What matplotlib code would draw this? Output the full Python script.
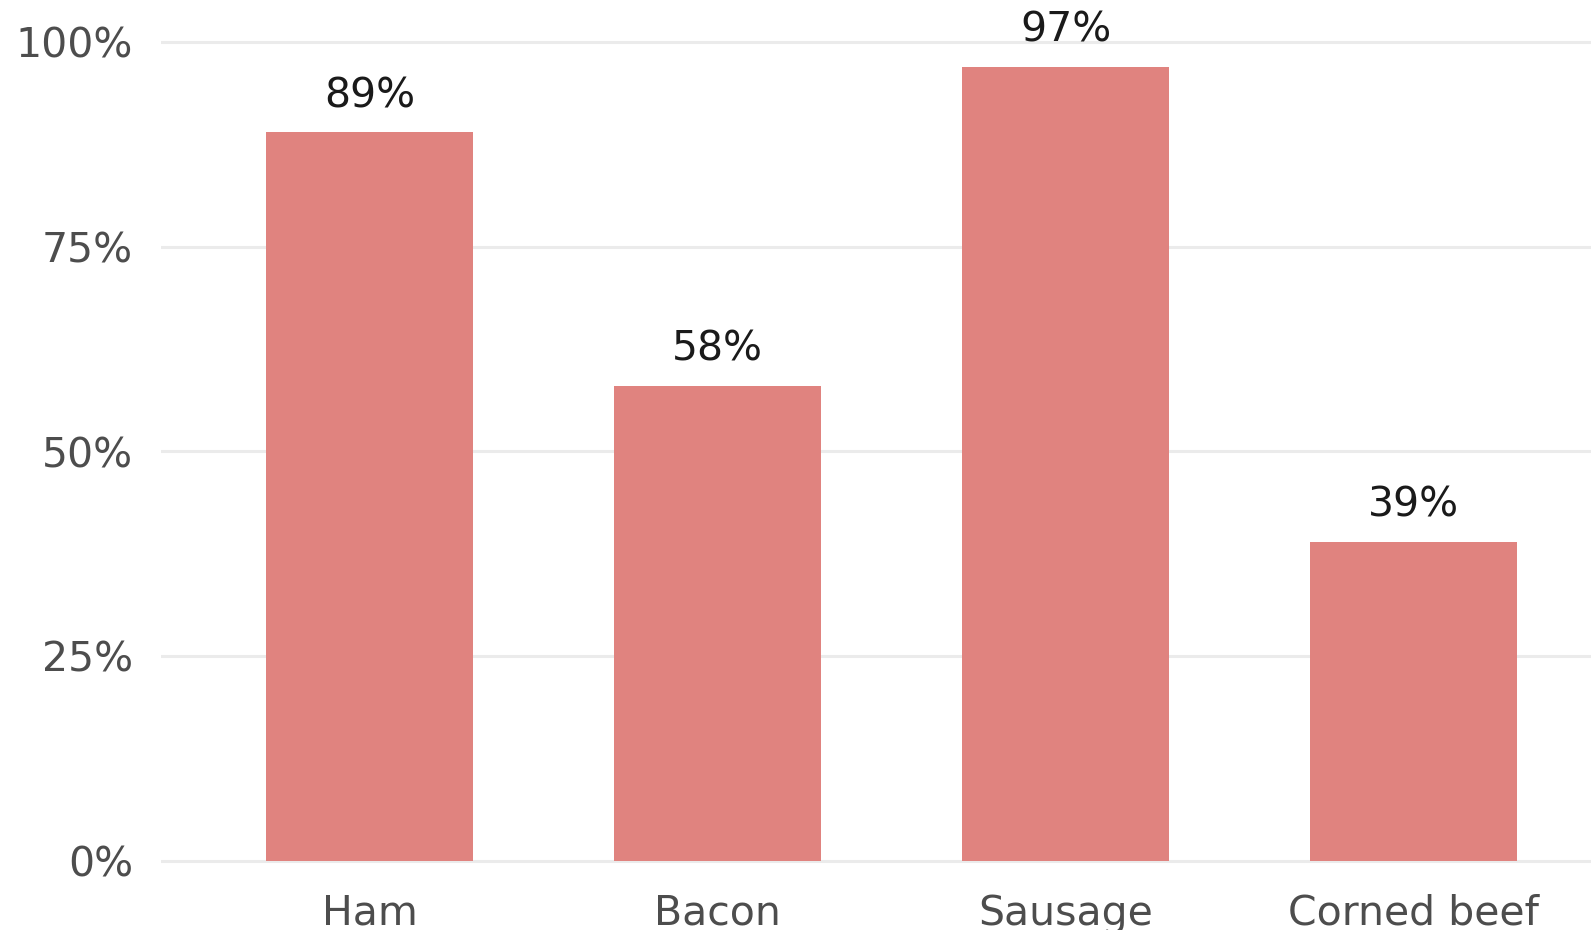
import matplotlib
matplotlib.use("Agg")
import matplotlib.pyplot as plt
from matplotlib.ticker import FuncFormatter

# data
categories = ["Ham", "Bacon", "Sausage", "Corned beef"]
shares = [0.89, 0.58, 0.97, 0.39]
y_ticks = [0, 0.25, 0.50, 0.75, 1.0]

BAR_COLOR = "#e0837f"
GRID_COLOR = "#ebebeb"
TEXT_GREY = "#4d4d4d"

W, H = 1591, 930
fig = plt.figure(figsize=(W / 100, H / 100), dpi=100)
# axes box in pixels: x 161 -> 1591, y (0..1 maps to 861..42 with 5% expansion)
left, right = 161, 1591
bottom_px, top_px = 902, 1
ax = fig.add_axes([left / W, (H - bottom_px) / H, (right - left) / W, (bottom_px - top_px) / H])

x = range(len(categories))
ax.bar(x, shares, width=0.595, color=BAR_COLOR, zorder=2)

for xi, v in zip(x, shares):
    ax.annotate(f"{round(v * 100)}%", (xi, v), xytext=(0, 18), textcoords="offset points",
                ha="center", va="baseline", fontsize=29.5, color="#1a1a1a")

ax.set_xlim(-0.6, -0.6 + (right - left) / 348)
ax.set_ylim(-0.05, 1.05)
ax.set_yticks(y_ticks)
ax.yaxis.set_major_formatter(FuncFormatter(lambda v, _: f"{v * 100:.0f}%"))
ax.set_xticks(list(x))
ax.set_xticklabels(categories)

ax.grid(axis="y", color=GRID_COLOR, linewidth=2.2, zorder=0)
ax.set_axisbelow(True)
for s in ax.spines.values():
    s.set_visible(False)
ax.tick_params(axis="y", length=0, pad=20, labelsize=29.5, labelcolor=TEXT_GREY)
ax.tick_params(axis="x", length=0, pad=-6, labelsize=29.5, labelcolor=TEXT_GREY)
ax.set_facecolor("white")

fig.savefig("out.png", dpi=100, facecolor="white")
plt.close("all")
